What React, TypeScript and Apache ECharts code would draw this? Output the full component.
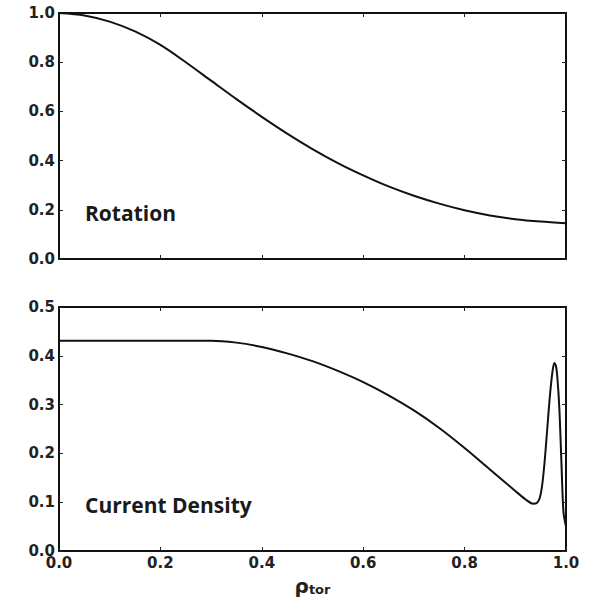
import React, { useEffect, useRef } from "react";
import * as echarts from "echarts";

const rotX = [0, 0.05, 0.1, 0.15, 0.2, 0.25, 0.3, 0.35, 0.4, 0.45, 0.5, 0.55, 0.6, 0.65, 0.7, 0.75, 0.8, 0.85, 0.9, 0.95, 1.0];
const rotY = [1.0, 0.99, 0.965, 0.925, 0.87, 0.8, 0.725, 0.65, 0.578, 0.51, 0.447, 0.39, 0.34, 0.295, 0.257, 0.225, 0.198, 0.177, 0.162, 0.152, 0.145];

const curX = [0, 0.1, 0.2, 0.3, 0.35, 0.4, 0.45, 0.5, 0.55, 0.6, 0.65, 0.7, 0.75, 0.8, 0.85, 0.9, 0.92, 0.935, 0.942, 0.948, 0.953, 0.958, 0.963, 0.968, 0.973, 0.977, 0.98, 0.983, 0.987, 0.991, 0.995, 1.0];
const curY = [0.431, 0.431, 0.431, 0.431, 0.427, 0.418, 0.405, 0.389, 0.369, 0.346, 0.319, 0.288, 0.252, 0.211, 0.167, 0.123, 0.106, 0.097, 0.098, 0.108, 0.135, 0.185, 0.25, 0.315, 0.365, 0.385, 0.38, 0.355, 0.29, 0.18, 0.08, 0.05];

const xTicks = ["0.0", "0.2", "0.4", "0.6", "0.8", "1.0"];
const panelTitles = ["Rotation", "Current Density"];
const xTitle = "ρ";
const xTitleSub = "tor";

export default function App() {
  const ref = useRef<HTMLDivElement>(null);
  useEffect(() => {
    if (!ref.current) return;
    const chart = echarts.init(ref.current, undefined, { renderer: "svg" });
    const tick = { show: true, inside: true, length: 4, lineStyle: { color: "#222", width: 1 } };
    const line = { show: true, onZero: false, lineStyle: { color: "#111", width: 2 } };
    const labelFont = { color: "#222", fontSize: 15, fontWeight: "bold", fontFamily: "DejaVu Sans" };
    const mkX = (grid: number, showLabels: boolean, pos: "bottom" | "top") => ({
      type: "value" as const,
      gridIndex: grid,
      position: pos,
      min: 0,
      max: 1,
      interval: 0.2,
      axisLine: line,
      axisTick: tick,
      splitLine: { show: false },
      axisLabel: {
        show: showLabels,
        ...labelFont,
        margin: 4,
        formatter: (v: number) => xTicks[Math.round(v / 0.2)] ?? v.toFixed(1),
      },
    });
    const mkY = (grid: number, max: number, interval: number, showLabels: boolean, pos: "left" | "right") => ({
      type: "value" as const,
      gridIndex: grid,
      position: pos,
      min: 0,
      max,
      interval,
      axisLine: line,
      axisTick: tick,
      splitLine: { show: false },
      axisLabel: {
        show: showLabels,
        ...labelFont,
        margin: 4,
        formatter: (v: number) => v.toFixed(1),
      },
    });
    chart.setOption({
      animation: false,
      backgroundColor: "#ffffff",
      textStyle: { fontFamily: "DejaVu Sans", fontSize: 15, fontWeight: "bold", color: "#222" },
      grid: [
        { left: 59, right: 27, top: 13, height: 246 },
        { left: 59, right: 27, top: 307, height: 247 },
      ],
      xAxis: [
        mkX(0, false, "bottom"),
        mkX(0, false, "top"),
        {
          ...mkX(1, true, "bottom"),
          name: `{a|${xTitle}}{b|${xTitleSub}}`,
          nameLocation: "middle",
          nameGap: 24,
          nameTextStyle: {
            rich: {
              a: { fontSize: 20, fontWeight: "bold", color: "#222", fontFamily: "DejaVu Sans" },
              b: { fontSize: 13, fontWeight: "bold", color: "#222", fontFamily: "DejaVu Sans", padding: [8, 0, 0, 0] },
            },
          },
        },
        mkX(1, false, "top"),
      ],
      yAxis: [
        mkY(0, 1, 0.2, true, "left"),
        mkY(0, 1, 0.2, false, "right"),
        mkY(1, 0.5, 0.1, true, "left"),
        mkY(1, 0.5, 0.1, false, "right"),
      ],
      series: [
        {
          type: "line",
          xAxisIndex: 0,
          yAxisIndex: 0,
          data: rotX.map((x, i) => [x, rotY[i]]),
          smooth: 0.3,
          showSymbol: false,
          lineStyle: { color: "#111", width: 2 },
        },
        {
          type: "line",
          xAxisIndex: 2,
          yAxisIndex: 2,
          data: curX.map((x, i) => [x, curY[i]]),
          smooth: 0.3,
          showSymbol: false,
          lineStyle: { color: "#111", width: 2 },
        },
      ],
      graphic: [
        {
          type: "text",
          left: 85,
          top: 202,
          style: { text: panelTitles[0], fontSize: 21, fontWeight: "bold", fill: "#1a1a1a", fontFamily: "Open Sans" },
        },
        {
          type: "text",
          left: 85,
          top: 494,
          style: { text: panelTitles[1], fontSize: 21, fontWeight: "bold", fill: "#1a1a1a", fontFamily: "Open Sans" },
        },
      ],
    });
    return () => chart.dispose();
  }, []);
  return <div ref={ref} style={{ width: 593, height: 597, position: "absolute", left: 0, top: 0 }} />;
}
